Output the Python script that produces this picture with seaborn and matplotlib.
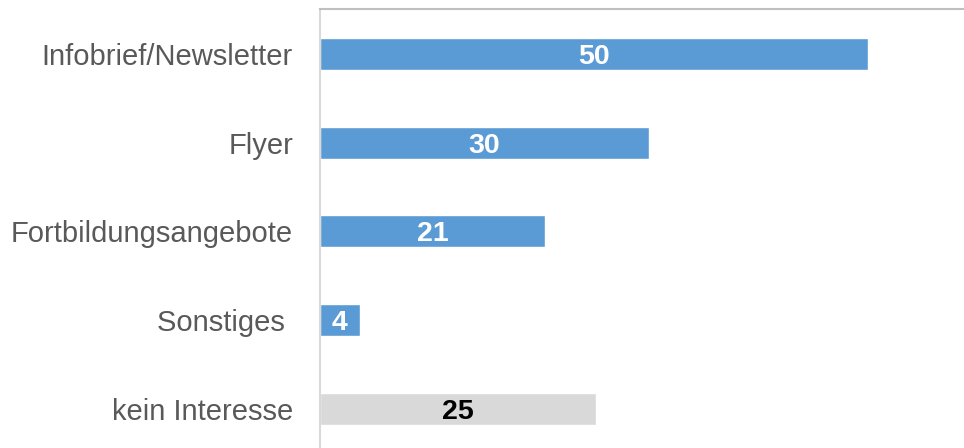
import matplotlib
matplotlib.use("Agg")
import matplotlib.pyplot as plt
import seaborn as sns
import pandas as pd

categories = ["Infobrief/Newsletter", "Flyer", "Fortbildungsangebote", "Sonstiges ", "kein Interesse"]
values = [50.0, 30.0, 20.6, 3.7, 25.2]
bar_colors = ["#5b9bd5", "#5b9bd5", "#5b9bd5", "#5b9bd5", "#d9d9d9"]
label_colors = ["white", "white", "white", "white", "black"]

sns.set_theme(style="white")
plt.rcParams["font.family"] = ["Liberation Sans", "DejaVu Sans"]

df = pd.DataFrame({"cat": categories, "val": values})

fig = plt.figure(figsize=(9.64, 4.48), dpi=100)
ax = fig.add_axes([319.5 / 964, 0.0, 1 - 319.5 / 964, 1 - 9 / 448])

sns.barplot(data=df, x="val", y="cat", hue="cat", palette=bar_colors,
            legend=False, width=0.36, orient="h", ax=ax, saturation=1)

ax.set_xlim(0, 58.75)
ax.set_ylim(4.44, -0.507)
ax.set_xlabel("")
ax.set_ylabel("")
ax.set_xticks([])
ax.tick_params(axis="y", length=0, pad=19, labelsize=21, labelcolor="#595959")

for s in ["right", "bottom"]:
    ax.spines[s].set_visible(False)
ax.spines["left"].set_color("#d9d9d9")
ax.spines["left"].set_linewidth(1.5)
ax.spines["top"].set_color("#bfbfbf")
ax.spines["top"].set_linewidth(1.5)

for cont, col in zip(ax.containers, label_colors):
    texts = ax.bar_label(cont, labels=[f"{v:.0f}" for v in cont.datavalues],
                         label_type="center", color=col, fontsize=20.5, fontweight="bold")
    for t in texts:
        t.set_va("center_baseline")

fig.savefig("out.png", dpi=100)
